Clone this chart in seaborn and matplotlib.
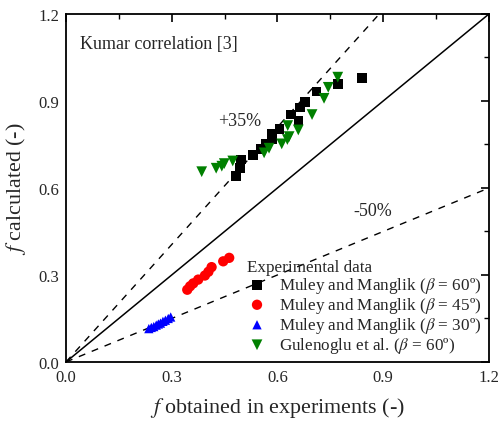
import matplotlib
matplotlib.use("Agg")
import matplotlib.pyplot as plt
import seaborn as sns
import numpy as np
import pandas as pd
from matplotlib.ticker import MultipleLocator

sns.set_theme(style="white")
plt.rcParams['font.family'] = ['Liberation Serif', 'DejaVu Serif']
plt.rcParams['mathtext.fontset'] = 'stix'

# Data
mm60_x = [0.839, 0.771, 0.711, 0.678, 0.664, 0.638, 0.660, 0.606, 0.584, 0.584,
          0.567, 0.552, 0.530, 0.496, 0.494, 0.482]
mm60_y = [0.979, 0.959, 0.932, 0.896, 0.878, 0.853, 0.830, 0.803, 0.785, 0.769,
          0.752, 0.734, 0.714, 0.698, 0.669, 0.642]
mm45_x = [0.463, 0.446, 0.413, 0.404, 0.394, 0.375, 0.361, 0.352, 0.344]
mm45_y = [0.359, 0.347, 0.327, 0.311, 0.298, 0.284, 0.271, 0.261, 0.249]
mm30_x = [0.235, 0.242, 0.249, 0.256, 0.262, 0.268, 0.275, 0.282, 0.290, 0.297]
mm30_y = [0.115, 0.119, 0.122, 0.127, 0.131, 0.134, 0.140, 0.144, 0.150, 0.155]
gu60_x = [0.771, 0.744, 0.732, 0.698, 0.659, 0.633, 0.628, 0.629, 0.612, 0.576,
          0.562, 0.473, 0.449, 0.442, 0.426, 0.385]
gu60_y = [0.982, 0.947, 0.909, 0.853, 0.800, 0.777, 0.767, 0.815, 0.752, 0.737,
          0.721, 0.693, 0.684, 0.675, 0.668, 0.656]

labels = [r'Muley and Manglik ($\beta$ = 60º)',
          r'Muley and Manglik ($\beta$ = 45º)',
          r'Muley and Manglik ($\beta$ = 30º)',
          r'Gulenoglu et al. ($\beta$ = 60º)']
colors = ['black', 'red', 'blue', 'green']
markers = ['s', 'o', '^', 'v']

ref_x = [0.0, 1.2]
p35_x = [0.0, 1.2 / 1.35]
m50_x = [0.0, 1.2]

fig = plt.figure(figsize=(5.0, 4.27), dpi=100)
ax = fig.add_axes([0.132, 0.150, 0.846, 0.815])

ax.plot(ref_x, ref_x, color='black', lw=1.1, zorder=1)
ax.plot(p35_x, [1.35 * v for v in p35_x], color='black', lw=1.0, ls=(0, (5, 5)), zorder=1)
ax.plot(m50_x, [0.5 * v for v in m50_x], color='black', lw=1.0, ls=(0, (5, 5)), zorder=1)

series = [(mm60_x, mm60_y), (mm45_x, mm45_y), (mm30_x, mm30_y), (gu60_x, gu60_y)]
sizes = [48, 55, 45, 60]
for (xs, ys), lab, c, m, s in zip(series, labels, colors, markers, sizes):
    df = pd.DataFrame({'x': xs, 'y': ys})
    sns.scatterplot(data=df, x='x', y='y', ax=ax, color=c, marker=m, s=s,
                    edgecolor='none', label=lab, zorder=3)

ax.set_xlim(0, 1.2)
ax.set_ylim(0, 1.2)
ax.xaxis.set_major_locator(MultipleLocator(0.3))
ax.yaxis.set_major_locator(MultipleLocator(0.3))
ax.xaxis.set_minor_locator(MultipleLocator(0.15))
ax.yaxis.set_minor_locator(MultipleLocator(0.15))
ax.tick_params(which='both', direction='in', top=True, right=True, color='black',
               labelsize=12, pad=5)
ax.tick_params(which='major', length=6, width=1.2)
ax.tick_params(which='minor', length=3.5, width=1.0)
ax.xaxis.set_major_formatter(matplotlib.ticker.FormatStrFormatter('%.1f'))
ax.yaxis.set_major_formatter(matplotlib.ticker.FormatStrFormatter('%.1f'))
for sp in ax.spines.values():
    sp.set_color('black')
    sp.set_linewidth(1.3)

ax.set_xlabel(r'$\it{f}$ obtained in experiments (-)', fontsize=15.8, labelpad=7)
ax.set_ylabel(r'$\it{f}$ calculated (-)', fontsize=15.8, labelpad=7)

ax.text(0.033, 0.94, 'Kumar correlation [3]', transform=ax.transAxes,
        fontsize=13, va='top', ha='left')
ax.text(0.494, 0.831, '+35%', fontsize=13, ha='center', va='center')
ax.text(0.871, 0.521, '-50%', fontsize=13, ha='center', va='center')

leg = ax.legend(title='Experimental data', frameon=False, loc='lower left',
                bbox_to_anchor=(0.395, -0.02), fontsize=12.3, title_fontsize=12.3,
                handletextpad=0.7, labelspacing=0.0, borderpad=0.3,
                handlelength=1.2, markerscale=1.0)
leg._legend_box.align = 'left'

fig.savefig('out.png', dpi=100)
